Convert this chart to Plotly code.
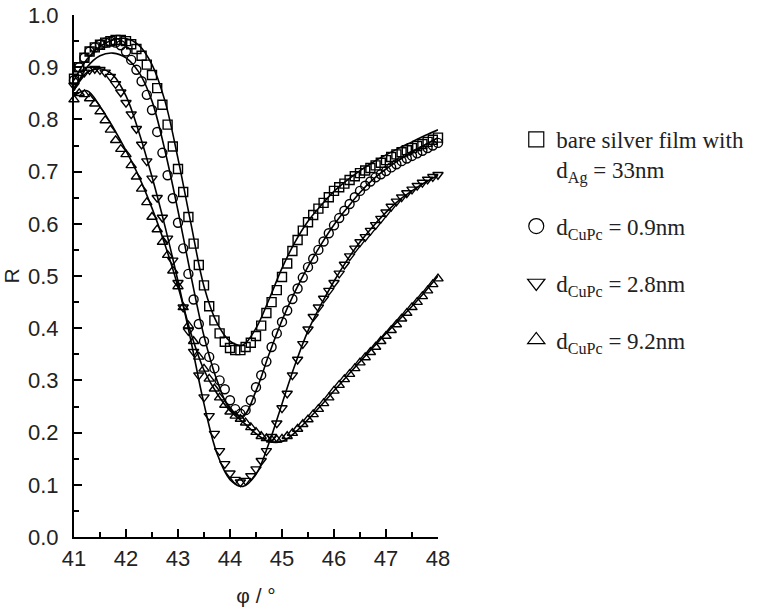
import plotly.graph_objects as go

# Incidence angle grid of the measured reflectivity (degrees)
angle_meas = [round(41.0 + 0.1 * i, 1) for i in range(71)]

# Measured reflectivity R
r_bare = [0.878, 0.900, 0.918, 0.930, 0.938, 0.943, 0.947, 0.950, 0.952, 0.952,
          0.950, 0.944, 0.935, 0.922, 0.905, 0.885, 0.860, 0.828, 0.790, 0.748,
          0.705, 0.661, 0.613, 0.562, 0.521, 0.482, 0.442, 0.415, 0.390, 0.374,
          0.362, 0.358, 0.358, 0.364, 0.372, 0.385, 0.405, 0.429, 0.450, 0.473,
          0.498, 0.524, 0.548, 0.569, 0.587, 0.603, 0.617, 0.629, 0.640, 0.651,
          0.663, 0.670, 0.677, 0.684, 0.691, 0.697, 0.702, 0.707, 0.712, 0.717,
          0.722, 0.728, 0.733, 0.737, 0.741, 0.745, 0.749, 0.753, 0.757, 0.761,
          0.765]
r_cupc09 = [0.875, 0.900, 0.918, 0.930, 0.938, 0.943, 0.947, 0.949, 0.947, 0.942,
            0.930, 0.914, 0.895, 0.873, 0.847, 0.818, 0.776, 0.736, 0.693, 0.649,
            0.602, 0.553, 0.504, 0.455, 0.408, 0.375, 0.345, 0.323, 0.300, 0.283,
            0.262, 0.245, 0.236, 0.243, 0.262, 0.287, 0.310, 0.336, 0.364, 0.390,
            0.412, 0.434, 0.456, 0.476, 0.497, 0.517, 0.533, 0.550, 0.566, 0.582,
            0.597, 0.611, 0.625, 0.638, 0.651, 0.663, 0.673, 0.681, 0.689, 0.695,
            0.701, 0.708, 0.714, 0.720, 0.725, 0.730, 0.735, 0.740, 0.745, 0.750,
            0.755]
r_cupc28 = [0.865, 0.880, 0.890, 0.895, 0.897, 0.895, 0.890, 0.882, 0.868, 0.852,
            0.832, 0.810, 0.782, 0.752, 0.720, 0.687, 0.650, 0.612, 0.572, 0.530,
            0.487, 0.440, 0.395, 0.355, 0.310, 0.268, 0.232, 0.198, 0.165, 0.140,
            0.122, 0.110, 0.105, 0.108, 0.117, 0.130, 0.146, 0.165, 0.192, 0.218,
            0.247, 0.275, 0.310, 0.340, 0.370, 0.398, 0.422, 0.440, 0.457, 0.472,
            0.487, 0.505, 0.522, 0.538, 0.553, 0.565, 0.575, 0.587, 0.598, 0.610,
            0.622, 0.633, 0.643, 0.651, 0.659, 0.666, 0.673, 0.679, 0.685, 0.690,
            0.694]
r_cupc92 = [0.838, 0.850, 0.848, 0.840, 0.830, 0.815, 0.798, 0.780, 0.760, 0.743,
            0.733, 0.712, 0.690, 0.667, 0.641, 0.613, 0.589, 0.565, 0.540, 0.510,
            0.480, 0.440, 0.405, 0.375, 0.345, 0.322, 0.303, 0.284, 0.267, 0.253,
            0.240, 0.232, 0.226, 0.219, 0.210, 0.201, 0.193, 0.189, 0.186, 0.186,
            0.188, 0.193, 0.199, 0.207, 0.216, 0.225, 0.235, 0.245, 0.256, 0.267,
            0.280, 0.291, 0.302, 0.312, 0.323, 0.334, 0.344, 0.354, 0.364, 0.375,
            0.385, 0.396, 0.407, 0.418, 0.429, 0.440, 0.450, 0.461, 0.472, 0.484,
            0.495]

# Angle grid of the calculated (fitted) curves
angle_fit = [41.0 + 0.25 * i for i in range(29)]

fit_bare = [0.875, 0.915, 0.940, 0.952, 0.955, 0.942, 0.905, 0.835, 0.725, 0.600,
            0.480, 0.410, 0.375, 0.368, 0.400, 0.455, 0.515, 0.565, 0.605, 0.635,
            0.662, 0.683, 0.702, 0.718, 0.732, 0.745, 0.757, 0.769, 0.780]
fit_cupc09 = [0.855, 0.900, 0.922, 0.927, 0.918, 0.890, 0.835, 0.740, 0.625, 0.500,
              0.385, 0.300, 0.245, 0.232, 0.280, 0.350, 0.415, 0.470, 0.518, 0.560,
              0.598, 0.630, 0.660, 0.685, 0.705, 0.722, 0.737, 0.751, 0.765]
fit_cupc28 = [0.860, 0.890, 0.897, 0.885, 0.845, 0.775, 0.690, 0.595, 0.490, 0.375,
              0.255, 0.160, 0.110, 0.097, 0.120, 0.180, 0.255, 0.330, 0.395, 0.445,
              0.490, 0.530, 0.565, 0.595, 0.622, 0.645, 0.663, 0.679, 0.693]
fit_cupc92 = [0.845, 0.855, 0.825, 0.785, 0.740, 0.690, 0.630, 0.560, 0.480, 0.390,
              0.320, 0.275, 0.242, 0.220, 0.198, 0.183, 0.183, 0.200, 0.225, 0.252,
              0.280, 0.308, 0.336, 0.363, 0.390, 0.416, 0.442, 0.470, 0.500]

x_ticks = [41, 42, 43, 44, 45, 46, 47, 48]
y_ticks = [0.0, 0.1, 0.2, 0.3, 0.4, 0.5, 0.6, 0.7, 0.8, 0.9, 1.0]

legend_labels = [
    "bare silver film with<br>d<sub>Ag</sub> = 33nm",
    "d<sub>CuPc</sub> = 0.9nm",
    "d<sub>CuPc</sub> = 2.8nm",
    "d<sub>CuPc</sub> = 9.2nm",
]

series = [
    (r_bare, fit_bare, "square-open"),
    (r_cupc09, fit_cupc09, "circle-open"),
    (r_cupc28, fit_cupc28, "triangle-down-open"),
    (r_cupc92, fit_cupc92, "triangle-up-open"),
]

sans = "Liberation Sans, Arial, sans-serif"
serif = "Liberation Serif, Times New Roman, serif"

fig = go.Figure()

for meas, fit, symbol in series:
    fig.add_trace(go.Scatter(
        x=angle_fit, y=fit, mode="lines", line=dict(color="black", width=1.6, shape="spline"),
        showlegend=False, hoverinfo="skip", cliponaxis=False))
    fig.add_trace(go.Scatter(
        x=angle_meas, y=meas, mode="markers",
        marker=dict(symbol=symbol, size=9, color="black", line=dict(width=1.4, color="black")),
        showlegend=False, cliponaxis=False))

# Legend entries with larger symbols
for i, (label, (_, _, symbol)) in enumerate(zip(legend_labels, series)):
    fig.add_trace(go.Scatter(
        x=[None], y=[None], mode="markers", name=label, legendgroup=f"g{i}",
        marker=dict(symbol=symbol, size=15, color="black", line=dict(width=1.2, color="black"))))

axis_common = dict(
    showline=True, linecolor="black", linewidth=2,
    ticks="inside", ticklen=8, tickwidth=2, tickcolor="black",
    showgrid=False, zeroline=False, mirror=False, automargin=False,
    tickfont=dict(family=sans, size=22, color="#222"),
)

fig.update_xaxes(
    range=[41, 48], tickvals=x_ticks, ticktext=[str(v) for v in x_ticks],
    minor=dict(dtick=0.5, tick0=41, ticks="inside", ticklen=5, tickwidth=2, tickcolor="black"),
    title=dict(text="φ / °", font=dict(family=sans, size=21, color="#222"), standoff=18),
    ticklabelstandoff=1,
    **axis_common)
fig.update_yaxes(
    range=[0, 1.0], tickvals=y_ticks, ticktext=[f"{v:.1f}" for v in y_ticks],
    minor=dict(dtick=0.05, tick0=0, ticks="inside", ticklen=5, tickwidth=2, tickcolor="black"),
    title=dict(text="R", font=dict(family=sans, size=21, color="#222"), standoff=10),
    ticklabelstandoff=9,
    **axis_common)

fig.update_layout(
    width=764, height=614,
    margin=dict(l=74, r=326, t=15, b=77),
    paper_bgcolor="white", plot_bgcolor="white",
    showlegend=True,
    legend=dict(
        x=1.215, y=0.803, xanchor="left", yanchor="top",
        font=dict(family=serif, size=23, color="#222"),
        valign="top", tracegroupgap=24, bgcolor="rgba(0,0,0,0)",
    ),
)

fig.write_html("out.html")
